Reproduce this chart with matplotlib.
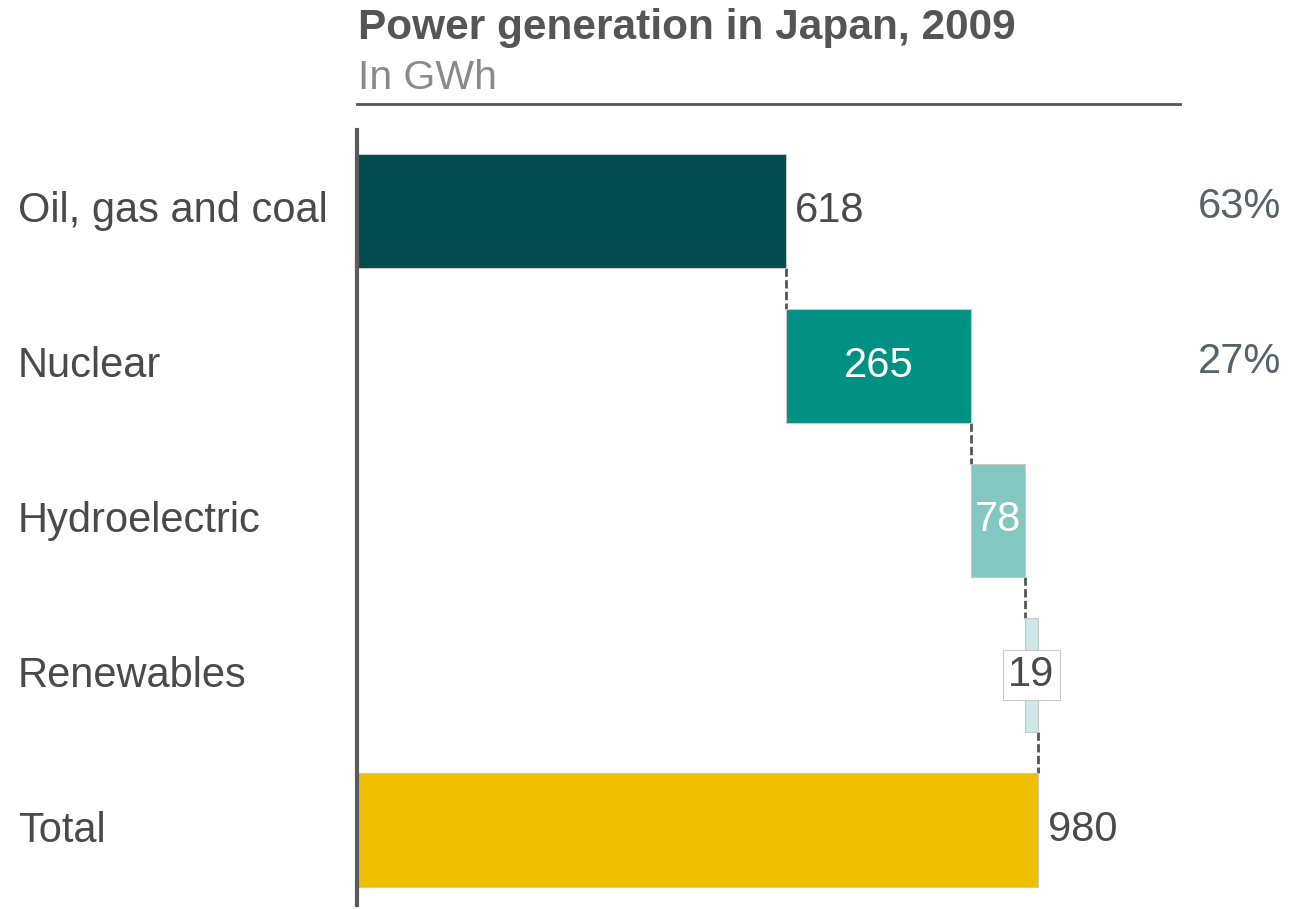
import matplotlib.pyplot as plt

plt.rcParams['font.family'] = ['Liberation Sans', 'DejaVu Sans']

# power generation by source, GWh
categories = ["Oil, gas and coal", "Nuclear", "Hydroelectric", "Renewables", "Total"]
values = [618, 265, 78, 19, 980]
shares = ["63%", "27%", "", "", ""]
colors = ["#024c4e", "#009185", "#82c8c1", "#cde8e7", "#f0c000"]

fig = plt.figure(figsize=(12.89, 9.09), dpi=100)
W, H = 1289, 909
ax = fig.add_axes([357 / W, 1 - 905 / H, (1180 - 357) / W, (905 - 130) / H])

# floating bars: each step starts where the previous ended, total starts at 0
starts = []
run = 0
for i, v in enumerate(values):
    if i == len(values) - 1:
        starts.append(0)
    else:
        starts.append(run)
        run += v

rows = list(range(len(categories)))
ax.barh(rows, values, left=starts, height=0.735, color=colors,
        edgecolor="#c8c8c8", linewidth=0.8, zorder=2)

# dashed connectors between consecutive bars
for i in range(len(values) - 1):
    x = starts[i] + values[i]
    ax.plot([x, x], [i + 0.3675, i + 1 - 0.3675], color="#555555",
            lw=2, ls=(0, (3, 1.2)), zorder=1)

# value labels
fs = 30
ax.text(starts[0] + values[0] + 12, 0, str(values[0]), ha="left", va="center",
        fontsize=fs, color="#4a4a4a")
ax.text(starts[1] + values[1] / 2, 1, str(values[1]), ha="center", va="center",
        fontsize=fs, color="white")
ax.text(starts[2] + values[2] / 2, 2, str(values[2]), ha="center", va="center",
        fontsize=fs, color="white")
ax.text(starts[3] + values[3] / 2, 3, str(values[3]), ha="center", va="center",
        fontsize=fs, color="#4a4a4a", zorder=3,
        bbox=dict(boxstyle="square,pad=0.12", fc="white", ec="#c8c8c8", lw=0.8))
ax.text(values[4] + 15, 4, str(values[4]), ha="left", va="center",
        fontsize=fs, color="#4a4a4a")

xmax = 980 * (1180 - 357) / (1038 - 357)
ax.set_xlim(0, xmax)
ax.set_ylim(4 + (905 - 830) / 155, -(211 - 130) / 155)
ax.axis("off")
ax.plot([0, 0], [4 + (905 - 830) / 155, -(211 - 130) / 155], color="#5a5a5a",
        lw=3, clip_on=False, zorder=4)

# category labels and shares
for i, c in enumerate(categories):
    fig.text(18 / W, 1 - (211 + 155 * i) / H, c, ha="left", va="center",
             fontsize=fs, color="#4a4a4a")
    if shares[i]:
        fig.text(1281 / W, 1 - (207 + 155 * i) / H, shares[i], ha="right",
                 va="center", fontsize=fs, color="#55646b")

fig.text(358 / W, 1 - 28 / H, "Power generation in Japan, 2009", ha="left",
         va="center", fontsize=30.5, fontweight="bold", color="#555555")
fig.text(358 / W, 1 - 78 / H, "In GWh", ha="left", va="center",
         fontsize=29.5, color="#8a8a8a")
fig.add_artist(plt.Line2D([357 / W, 1180 / W], [1 - 104 / H, 1 - 104 / H],
                          color="#555555", lw=2))

plt.savefig("out.png", dpi=100)
